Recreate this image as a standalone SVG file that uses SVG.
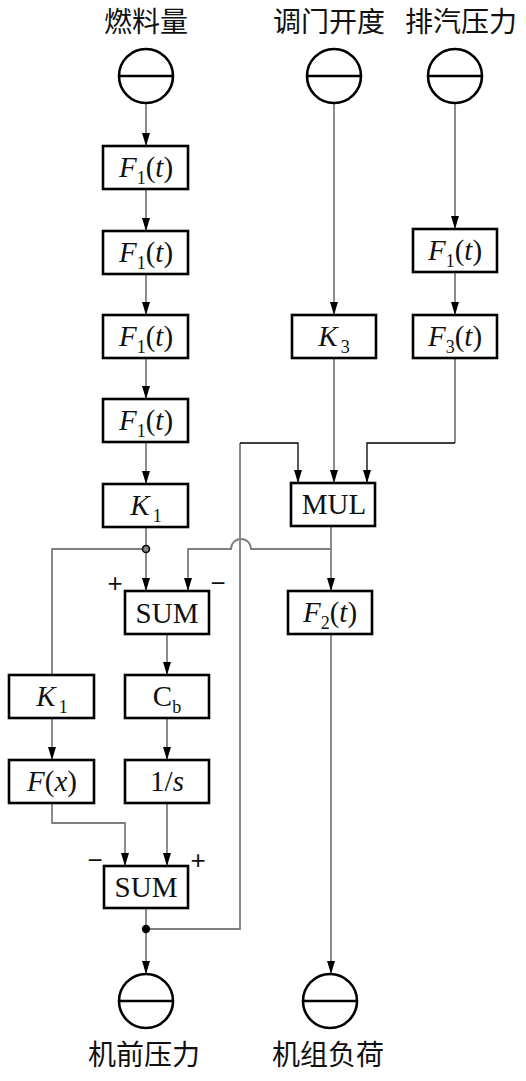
<svg xmlns="http://www.w3.org/2000/svg" width="526" height="1081" viewBox="0 0 526 1081">
<style>
.box{fill:#fff;stroke:#000;stroke-width:2.6}
.io{fill:#fff;stroke:#000;stroke-width:2.6}
.bar{stroke:#000;stroke-width:2.6}
.c{fill:none;stroke:#7f7f7f;stroke-width:1.8}
.k{fill:none;stroke:#000;stroke-width:1.3}
.t{font-family:"Liberation Serif","Times New Roman",serif;font-size:29px;text-anchor:middle;fill:#111}
.i{font-style:italic}
.s{font-size:18px}
.cn{font-family:"Noto Sans CJK SC","Noto Sans CJK JP",sans-serif;font-size:28px;text-anchor:middle;fill:#111}
.sg{font-family:"Liberation Sans",Arial,sans-serif;font-size:26px;text-anchor:middle;fill:#111}
</style>
<defs>
<marker id="d" viewBox="0 0 13 8" refX="13" refY="4" markerWidth="13" markerHeight="8" markerUnits="userSpaceOnUse" orient="auto">
<path d="M0,0 L13,4 L0,8 z" fill="#000"/>
</marker>
</defs>

<g id="connectors">
<path class="c" d="M146,103 V146" marker-end="url(#d)"/>
<path class="c" d="M146,189 V231" marker-end="url(#d)"/>
<path class="c" d="M146,274 V315" marker-end="url(#d)"/>
<path class="c" d="M146,358 V399" marker-end="url(#d)"/>
<path class="c" d="M146,442 V484" marker-end="url(#d)"/>
<path class="c" d="M146,527 V591" marker-end="url(#d)"/>
<path class="c" d="M146,549 H52 V675"/>
<path class="c" d="M52,718 V760" marker-end="url(#d)"/>
<path class="c" d="M52,803 V823 H125 V866" marker-end="url(#d)"/>
<path class="c" d="M167,634 V675" marker-end="url(#d)"/>
<path class="c" d="M167,718 V760" marker-end="url(#d)"/>
<path class="c" d="M167,803 V866" marker-end="url(#d)"/>
<path class="c" d="M146,908 V974" marker-end="url(#d)"/>
<path class="c" d="M146,929 H240 V443"/>
<path class="k" d="M240,443 H298 V483" marker-end="url(#d)"/>
<path class="c" d="M334,103 V315" marker-end="url(#d)"/>
<path class="c" d="M334,358 V483" marker-end="url(#d)"/>
<path class="c" d="M455,103 V229" marker-end="url(#d)"/>
<path class="c" d="M455,272 V315" marker-end="url(#d)"/>
<path class="c" d="M455,358 V443"/>
<path class="k" d="M455,443 H367 V483" marker-end="url(#d)"/>
<path class="c" d="M331,526 V591" marker-end="url(#d)"/>
<path class="c" d="M331,549 H251 A10,10 0 0 0 231,549 H188 V591" marker-end="url(#d)"/>
<path class="c" d="M331,634 V974" marker-end="url(#d)"/>
<circle cx="146" cy="549" r="3.5" fill="#888" stroke="#000" stroke-width="1.6"/>
<circle cx="146" cy="929" r="4.2" fill="#000"/>
</g>

<g id="in1"><text class="cn" x="146" y="32">燃料量</text><circle class="io" cx="146" cy="76" r="27"/><line class="bar" x1="119" y1="76" x2="173" y2="76"/></g>
<g id="in2"><text class="cn" x="329" y="32">调门开度</text><circle class="io" cx="334" cy="76" r="27"/><line class="bar" x1="307" y1="76" x2="361" y2="76"/></g>
<g id="in3"><text class="cn" x="461" y="32">排汽压力</text><circle class="io" cx="455" cy="76" r="27"/><line class="bar" x1="428" y1="76" x2="482" y2="76"/></g>

<g id="f1a"><rect class="box" x="103" y="146" width="85" height="43"/><text class="t" x="146" y="177"><tspan class="i">F</tspan><tspan class="s" dy="7">1</tspan><tspan dy="-7">(</tspan><tspan class="i">t</tspan>)</text></g>
<g id="f1b"><rect class="box" x="103" y="231" width="85" height="43"/><text class="t" x="146" y="262"><tspan class="i">F</tspan><tspan class="s" dy="7">1</tspan><tspan dy="-7">(</tspan><tspan class="i">t</tspan>)</text></g>
<g id="f1c"><rect class="box" x="103" y="315" width="85" height="43"/><text class="t" x="146" y="346"><tspan class="i">F</tspan><tspan class="s" dy="7">1</tspan><tspan dy="-7">(</tspan><tspan class="i">t</tspan>)</text></g>
<g id="f1d"><rect class="box" x="103" y="399" width="85" height="43"/><text class="t" x="146" y="430"><tspan class="i">F</tspan><tspan class="s" dy="7">1</tspan><tspan dy="-7">(</tspan><tspan class="i">t</tspan>)</text></g>
<g id="k1"><rect class="box" x="103" y="484" width="85" height="43"/><text class="t" x="146" y="515"><tspan class="i">K</tspan><tspan class="s" dx="3" dy="7">1</tspan></text></g>

<g id="k3"><rect class="box" x="292" y="315" width="84" height="43"/><text class="t" x="334" y="346"><tspan class="i">K</tspan><tspan class="s" dx="3" dy="7">3</tspan></text></g>
<g id="f1r"><rect class="box" x="413" y="229" width="84" height="43"/><text class="t" x="455" y="260"><tspan class="i">F</tspan><tspan class="s" dy="7">1</tspan><tspan dy="-7">(</tspan><tspan class="i">t</tspan>)</text></g>
<g id="f3"><rect class="box" x="413" y="315" width="84" height="43"/><text class="t" x="455" y="346"><tspan class="i">F</tspan><tspan class="s" dy="7">3</tspan><tspan dy="-7">(</tspan><tspan class="i">t</tspan>)</text></g>

<g id="mul"><rect class="box" x="291" y="483" width="84" height="43"/><text class="t" x="334" y="514">MUL</text></g>
<g id="f2"><rect class="box" x="288" y="591" width="84" height="43"/><text class="t" x="330" y="622"><tspan class="i">F</tspan><tspan class="s" dy="7">2</tspan><tspan dy="-7">(</tspan><tspan class="i">t</tspan>)</text></g>

<g id="sum1"><rect class="box" x="125" y="591" width="84" height="43"/><text class="t" x="167" y="623">SUM</text>
<text class="sg" x="115" y="592">+</text><text class="sg" x="218" y="592">−</text></g>

<g id="k1b"><rect class="box" x="9" y="675" width="85" height="43"/><text class="t" x="52" y="706"><tspan class="i">K</tspan><tspan class="s" dx="3" dy="7">1</tspan></text></g>
<g id="fx"><rect class="box" x="9" y="760" width="85" height="43"/><text class="t" x="52" y="791"><tspan class="i">F</tspan>(<tspan class="i">x</tspan>)</text></g>
<g id="cb"><rect class="box" x="125" y="675" width="84" height="43"/><text class="t" x="167" y="706">C<tspan class="s" dy="7">b</tspan></text></g>
<g id="int"><rect class="box" x="125" y="760" width="84" height="43"/><text class="t" x="167" y="791">1/<tspan class="i">s</tspan></text></g>

<g id="sum2"><rect class="box" x="104" y="866" width="84" height="42"/><text class="t" x="146" y="897">SUM</text>
<text class="sg" x="95" y="869">−</text><text class="sg" x="198" y="869">+</text></g>

<g id="out1"><circle class="io" cx="146" cy="1001" r="27"/><line class="bar" x1="119" y1="1001" x2="173" y2="1001"/><text class="cn" x="144" y="1065">机前压力</text></g>
<g id="out2"><circle class="io" cx="330" cy="1001" r="27"/><line class="bar" x1="303" y1="1001" x2="357" y2="1001"/><text class="cn" x="328" y="1065">机组负荷</text></g>
</svg>
